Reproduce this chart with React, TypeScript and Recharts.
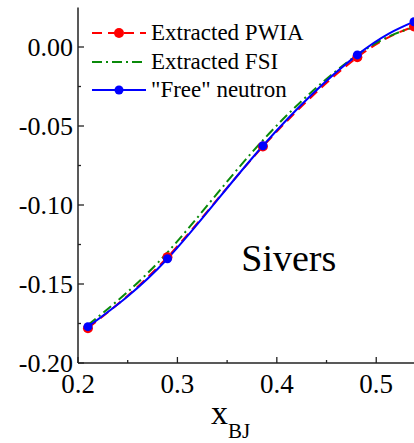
import React from "react"
import { LineChart, Line, XAxis, YAxis, Legend, ReferenceDot } from "recharts"

// Sivers asymmetry vs x_BJ
const xBJ = [0.21, 0.29, 0.386, 0.481, 0.538]
const pwia = [-0.178, -0.133, -0.063, -0.0065, 0.013]
const fsi = [-0.176, -0.13, -0.059, -0.005, 0.0125]
const freeNeutron = [-0.177, -0.134, -0.0625, -0.005, 0.016]

const seriesNames = ["Extracted PWIA", "Extracted FSI", "\"Free\" neutron"]

const xTicks = [0.2, 0.25, 0.3, 0.35, 0.4, 0.45, 0.5]
const xMajor = [0.2, 0.3, 0.4, 0.5]
const yTicks = [-0.2, -0.175, -0.15, -0.125, -0.1, -0.075, -0.05, -0.025, 0]
const yMajor = [-0.2, -0.15, -0.1, -0.05, 0]

const rows = xBJ.map((x, i) => ({ x, pwia: pwia[i], fsi: fsi[i], free: freeNeutron[i] }))

const FONT = "'Liberation Serif', 'Times New Roman', serif"
const AXIS = "#222"

const isMajor = (list: number[], v: number) => list.some((m) => Math.abs(m - v) < 1e-9)

const YTick = (props: any) => {
  const { x, y, payload } = props
  const v = payload.value
  const major = isMajor(yMajor, v)
  return (
    <g>
      <line x1={x} x2={x + (major ? 6 : 3)} y1={y} y2={y} stroke={AXIS} strokeWidth={1.3} />
      {major && (
        <text x={x - 5} y={y} textAnchor="end" dominantBaseline="central" fontFamily={FONT} fontSize={26} fill="#000">
          {v.toFixed(2)}
        </text>
      )}
    </g>
  )
}

const XTick = (props: any) => {
  const { x, y, payload } = props
  const v = payload.value
  const major = isMajor(xMajor, v)
  return (
    <g>
      <line x1={x} x2={x} y1={y} y2={y - (major ? 6 : 3)} stroke={AXIS} strokeWidth={1.3} />
      {major && (
        <text x={x} y={y + 30} textAnchor="middle" fontFamily={FONT} fontSize={27} fill="#000">
          {v.toFixed(1)}
        </text>
      )}
    </g>
  )
}

const TopTick = (props: any) => {
  const { x, y, payload } = props
  const major = isMajor(xMajor, payload.value)
  return <line x1={x} x2={x} y1={y} y2={y + (major ? 6 : 3)} stroke={AXIS} strokeWidth={1.3} />
}

const XLabel = (props: any) => {
  const { viewBox } = props
  const cx = viewBox.x + 133
  return (
    <text x={cx} y={424} fontFamily={FONT} fill="#000">
      <tspan fontSize={34}>x</tspan>
      <tspan fontSize={21} dy={14}>BJ</tspan>
    </text>
  )
}

const legendStyle = [
  { color: "#ff0000", dash: "10 6", dot: 5 },
  { color: "#0a8a0a", dash: "10 4 2 4", dot: 0 },
  { color: "#0000ff", dash: undefined, dot: 4.5 },
]

const LegendBox = () => (
  <div style={{ fontFamily: FONT, fontSize: 23, lineHeight: "28.5px", color: "#000" }}>
    {seriesNames.map((name, i) => {
      const s = legendStyle[i]
      return (
        <div key={name} style={{ display: "flex", alignItems: "center", whiteSpace: "nowrap" }}>
          <svg width={60} height={20} style={{ marginRight: 2 }}>
            <line x1={3} x2={57} y1={10} y2={10} stroke={s.color} strokeWidth={2} strokeDasharray={s.dash} />
            {s.dot > 0 && <circle cx={30} cy={10} r={s.dot} fill={s.color} />}
          </svg>
          <span>{name}</span>
        </div>
      )
    })}
  </div>
)

export default function App() {
  return (
    <div style={{ position: "absolute", left: 0, top: 0, width: 414, height: 443, overflow: "hidden", background: "#fff" }}>
      <LineChart width={416} height={443} data={rows} margin={{ top: 7.5, right: 0, left: 0, bottom: 0 }}>
        <XAxis
          dataKey="x"
          type="number"
          domain={[0.2, 0.54]}
          ticks={xTicks}
          interval={0}
          height={80}
          tickSize={0}
          tickMargin={0}
          tickLine={false}
          tick={<XTick />}
          axisLine={{ stroke: AXIS, strokeWidth: 1.5 }}
          label={<XLabel />}
          allowDataOverflow
        />
        <XAxis
          xAxisId="top"
          orientation="top"
          dataKey="x"
          type="number"
          domain={[0.2, 0.54]}
          ticks={xTicks}
          interval={0}
          height={0}
          tickSize={0}
          tickMargin={0}
          tickLine={false}
          tick={<TopTick />}
          axisLine={{ stroke: AXIS, strokeWidth: 1.5 }}
          allowDataOverflow
        />
        <YAxis
          type="number"
          domain={[-0.2, 0.025]}
          ticks={yTicks}
          interval={0}
          width={78}
          tickSize={0}
          tickMargin={0}
          tickLine={false}
          tick={<YTick />}
          axisLine={{ stroke: AXIS, strokeWidth: 1.5 }}
          allowDataOverflow
        />
        <Legend
          layout="vertical"
          align="center"
          verticalAlign="middle"
          wrapperStyle={{ position: "absolute", left: 89, top: 19, width: "auto", height: "auto" }}
          content={<LegendBox />}
        />
        <Line
          dataKey="pwia"
          name={seriesNames[0]}
          type="natural"
          stroke="#ff0000"
          strokeWidth={2}
          strokeDasharray="10 6"
          dot={{ r: 5, fill: "#ff0000", stroke: "none" }}
          isAnimationActive={false}
        />
        <Line
          dataKey="fsi"
          name={seriesNames[1]}
          type="natural"
          stroke="#0a8a0a"
          strokeWidth={2}
          strokeDasharray="10 4 2 4"
          dot={false}
          isAnimationActive={false}
        />
        <Line
          dataKey="free"
          name={seriesNames[2]}
          type="natural"
          stroke="#0000ff"
          strokeWidth={2}
          dot={{ r: 4.5, fill: "#0000ff", stroke: "none" }}
          isAnimationActive={false}
        />
        <ReferenceDot
          x={0.412}
          y={-0.1335}
          r={0}
          fill="none"
          stroke="none"
          label={{ value: "Sivers", position: "center", fontSize: 38, fill: "#000", fontFamily: FONT }}
        />
      </LineChart>
    </div>
  )
}
